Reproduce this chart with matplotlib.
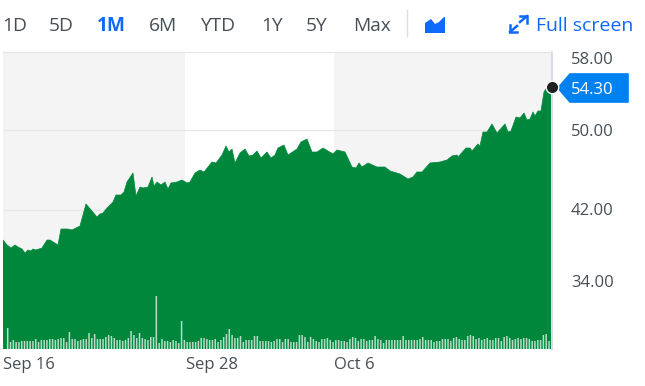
import numpy as np
import matplotlib
matplotlib.use('Agg')
import matplotlib.pyplot as plt

plt.rcParams['font.family'] = ['Open Sans', 'DejaVu Sans']

W, H = 645, 386
GREEN = '#00873c'
BLUE = '#0f69ff'
TEXT = '#464e56'

# chart position along the time axis, and the closing price there
price_x = [3,7,11,15,18,22,25,28,31,33,36,42,47,50,58,61,68,72,80,86,97,100,103,107,112,113,116,121,124,127,133,136,140,143,148,152,154,157,161,165,168,171,177,182,187,190,195,200,204,212,216,222,226,229,232,235,240,245,249,253,257,261,267,271,275,278,284,288,297,301,307,312,317,323,333,337,345,352,356,359,362,368,377,385,390,400,408,413,417,422,430,440,447,452,457,458,466,470,472,478,480,483,487,492,497,505,508,511,516,520,524,527,530,533,535,538,541,544,547,552]
price = [39.0,38.5,38.2,38.5,38.3,38.1,37.7,38.0,37.9,38.1,38.0,38.2,39.0,39.0,38.5,40.1,40.1,40.0,40.4,42.6,41.3,41.6,41.7,42.2,42.7,42.8,43.5,43.5,43.8,44.8,45.7,43.4,44.3,44.2,44.3,45.3,44.4,44.8,44.5,44.8,44.1,44.7,44.8,45.0,44.7,44.8,45.7,46.0,45.8,46.8,46.7,47.5,48.4,47.8,48.1,46.7,47.7,48.1,47.4,47.5,47.9,47.2,47.8,47.2,47.5,48.2,48.5,47.5,48.1,48.8,49.1,47.8,47.8,48.2,47.6,48.0,47.8,46.3,46.2,46.7,46.3,46.7,46.3,46.3,45.9,45.6,45.1,45.3,45.8,45.8,46.7,46.8,47.0,47.4,47.5,47.3,48.2,48.2,47.9,48.6,48.4,49.8,49.8,50.6,49.7,50.6,49.8,49.9,51.3,51.2,51.7,51.0,51.1,51.8,51.4,51.9,51.9,53.8,54.3,54.3]

volume = [21,7,9,7,7,8,8,8,8,8,10,7,9,9,9,10,10,9,10,11,11,7,17,10,10,8,9,10,10,16,11,15,10,10,10,12,14,13,11,9,9,8,9,11,18,14,11,16,11,10,9,12,12,53,6,10,8,8,7,9,8,6,28,9,7,7,7,7,8,11,11,10,9,9,10,7,9,12,15,20,14,11,11,13,7,9,9,9,13,13,8,8,8,8,7,8,10,
          10,7,10,10,7,7,7,14,14,12,7,12,10,8,7,10,10,11,9,7,9,9,8,8,7,10,12,11,8,10,10,8,9,9,13,10,9,6,9,9,9,9,9,9,13,9,9,9,9,9,10,12,9,9,9,7,8,8,10,10,10,8,11,12,10,9,9,13,14,13,10,11,9,10,11,9,9,11,11,8,12,13,11,9,10,11,10,11,11,10,8,8,9,9,14,15,8]

x_ticks = [3, 186, 334]
x_labels = ['Sep 16', 'Sep 28', 'Oct 6']
y_labels = ['58.00', '50.00', '42.00', '34.00']
y_label_pos = [60, 132, 211, 283]
last_price = 54.30
buttons = ['1D', '5D', '1M', '6M', 'YTD', '1Y', '5Y', 'Max']
button_x = [2, 49, 97, 149, 200, 261, 306, 353]

fig = plt.figure(figsize=(W/100, H/100), dpi=100)

left, right, top, bottom = 3, 552, 52, 349
ax = fig.add_axes([left/W, 1-bottom/H, (right-left)/W, (bottom-top)/H])
ax.set_xlim(left, right)
ax.set_ylim(28.1, 57.8)

# session bands
ax.axvspan(3, 185, color='#f4f4f5', lw=0, zorder=0)
ax.axvspan(334, 552, color='#f4f4f5', lw=0, zorder=0)
ax.axhline(50, color='#e6e6e8', lw=1, zorder=1)
ax.axhline(42, color='#e6e6e8', lw=1, zorder=1)
ax.fill_between(price_x, price, 0, color=GREEN, lw=0.5, zorder=2)

for s in ['left', 'bottom']:
    ax.spines[s].set_visible(False)
ax.spines['top'].set_color('#e6e6e8')
ax.spines['right'].set_color('#d8dce6')
ax.spines['right'].set_linewidth(1.5)
ax.set_yticks([])
ax.set_xticks(x_ticks)
ax.set_xticklabels(x_labels, fontsize=12, color=TEXT, ha='left')
ax.tick_params(axis='x', length=0, pad=6)

# volume bars, height is in pixels of the plot
vol_ax = ax.twinx()
vol_ax.set_ylim(0, bottom-top)
vol_ax.set_yticks([])
vol_ax.axis('off')
vol_x = np.linspace(7.7, 549, len(volume))
bars = vol_ax.bar(vol_x, volume, width=1.5, color='white', alpha=0.72, lw=0, zorder=3)
for b in bars:
    b.set_snap(False)

ax.set_zorder(1)
vol_ax.set_zorder(2)
vol_ax.plot([552], [(last_price-28.1)*10], 'o', ms=9, mfc='#222222', mec='white', mew=1, clip_on=False, zorder=5)

# everything outside the plot, in pixel coordinates
ui = fig.add_axes([0, 0, 1, 1])
ui.set_xlim(0, W)
ui.set_ylim(H, 0)
ui.axis('off')
ui.patch.set_alpha(0)

for b, x in zip(buttons, button_x):
    sel = b == '1M'
    ui.text(x, 26, b, fontsize=13.8, color=BLUE if sel else TEXT,
            fontweight='bold' if sel else 'normal', va='center', ha='left')
ui.plot([407, 407], [10, 36], color='#dcdfe3', lw=1)
ui.fill([425, 425, 431, 435, 439, 444, 445, 445], [33, 23, 19, 24, 22, 17, 17, 33], color=BLUE, lw=0)
ui.text(536, 26, 'Full screen', fontsize=14, color=BLUE, va='center', ha='left')

# expand arrows
ui.plot([520, 527, 527], [16, 16, 23], color=BLUE, lw=1.8, solid_joinstyle='miter')
ui.plot([527, 520], [16, 22], color=BLUE, lw=1.8)
ui.plot([510, 510, 517], [25, 32, 32], color=BLUE, lw=1.8, solid_joinstyle='miter')
ui.plot([510, 517], [32, 26], color=BLUE, lw=1.8)

for lab, y in zip(y_labels, y_label_pos):
    ui.text(571, y, lab, fontsize=12, color=TEXT, va='center', ha='left')

ui.fill([558, 570, 628, 628, 570], [88, 74, 74, 102, 102], facecolor='#0081f2', edgecolor='#0081f2', lw=1.2, joinstyle='round')
ui.text(571, 90, '%.2f' % last_price, fontsize=12, color='white', va='center', ha='left')

fig.savefig('out.png', dpi=100)
